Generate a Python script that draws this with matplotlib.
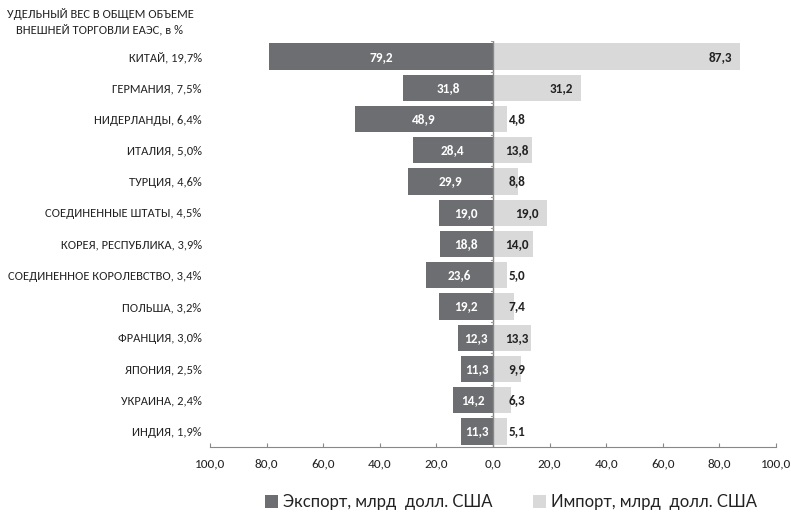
import matplotlib
matplotlib.use("Agg")
import matplotlib.pyplot as plt
from matplotlib import font_manager
import numpy as np

names = set(f.name for f in font_manager.fontManager.ttflist)
main_font = next((n for n in ["Carlito", "PT Sans Narrow", "Roboto Condensed",
                              "Open Sans Condensed", "Lato"] if n in names), "DejaVu Sans")
plt.rcParams['font.family'] = [main_font, 'DejaVu Sans']

categories = ["КИТАЙ, 19,7%", "ГЕРМАНИЯ, 7,5%", "НИДЕРЛАНДЫ, 6,4%", "ИТАЛИЯ, 5,0%",
              "ТУРЦИЯ, 4,6%", "СОЕДИНЕННЫЕ ШТАТЫ, 4,5%", "КОРЕЯ, РЕСПУБЛИКА, 3,9%",
              "СОЕДИНЕННОЕ КОРОЛЕВСТВО, 3,4%", "ПОЛЬША, 3,2%", "ФРАНЦИЯ, 3,0%",
              "ЯПОНИЯ, 2,5%", "УКРАИНА, 2,4%", "ИНДИЯ, 1,9%"]
export_vals = [79.2, 31.8, 48.9, 28.4, 29.9, 19.0, 18.8, 23.6, 19.2, 12.3, 11.3, 14.2, 11.3]
import_vals = [87.3, 31.2, 4.8, 13.8, 8.8, 19.0, 14.0, 5.0, 7.4, 13.3, 9.9, 6.3, 5.1]
xticks = [-100, -80, -60, -40, -20, 0, 20, 40, 60, 80, 100]
xtick_labels = ["100,0", "80,0", "60,0", "40,0", "20,0", "0,0", "20,0", "40,0", "60,0", "80,0", "100,0"]

def fmt(v):
    return f"{v:.1f}".replace(".", ",")

fig = plt.figure(figsize=(7.91, 5.12), dpi=100)
ax = fig.add_axes([210/791, 1-447/512, 566/791, (447-41)/512])

y = np.arange(len(categories))
c_exp = "#6d6e71"
c_imp = "#d9d9d9"
ax.barh(y, [-v for v in export_vals], height=0.84, color=c_exp, label="Экспорт, млрд  долл. США")
ax.barh(y, import_vals, height=0.84, color=c_imp, label="Импорт, млрд  долл. США")

fs = 9.0
for yi, v in zip(y, export_vals):
    ax.text(-v/2, yi, fmt(v), ha="center", va="center", color="white", fontsize=fs + 0.5,
            fontweight="bold")
for yi, v in zip(y, import_vals):
    ax.text(max(v - 7, 8.5), yi, fmt(v), ha="center", va="center", color="#222222",
            fontsize=fs + 0.5, fontweight="bold")

ax.set_xlim(-100, 100)
ax.set_ylim(len(categories) - 0.5, -0.5)
ax.set_xticks(xticks)
ax.set_xticklabels(xtick_labels, fontsize=fs + 0.5, color="#222222")
ax.set_yticks(y)
ax.set_yticklabels(categories, fontsize=fs, color="#222222")
ax.tick_params(axis="y", length=0, pad=6)
ax.tick_params(axis="x", direction="in", length=3, color="#888888", pad=8)

for s in ["top", "right", "left"]:
    ax.spines[s].set_visible(False)
ax.spines["bottom"].set_color("#888888")
ax.axvline(0, color="#888888", lw=1)
for b in np.arange(-0.5, len(categories), 1.0):
    ax.plot([-0.8, 0], [b, b], color="#999999", lw=0.8)

fig.text(100/791, 1-22/512, "УДЕЛЬНЫЙ ВЕС В ОБЩЕМ ОБЪЕМЕ\nВНЕШНЕЙ ТОРГОВЛИ ЕАЭС, в %",
         ha="center", va="center", fontsize=fs, color="#222222", linespacing=1.4)

leg = fig.legend(loc="center", bbox_to_anchor=(511/791, 1-502/512), ncol=2, frameon=False,
                 prop={"family": ["Lato", "DejaVu Sans"], "size": 12},
                 handlelength=0.8, handleheight=0.8, handletextpad=0.3,
                 columnspacing=2.4)
for t in leg.get_texts():
    t.set_color("#222222")

fig.savefig("out.png", dpi=100)
